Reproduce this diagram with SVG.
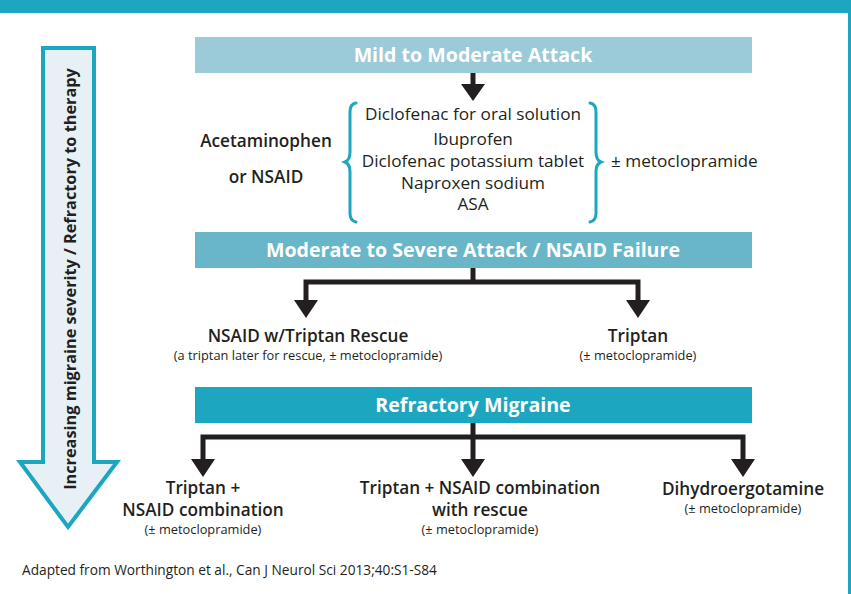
<svg xmlns="http://www.w3.org/2000/svg" width="851" height="594" viewBox="0 0 851 594">
<defs>
<style>
text{font-family:"Open Sans","Noto Sans","Liberation Sans",sans-serif;fill:#231F20}
.hd{font-size:19.6px;font-weight:700;fill:#fff;text-anchor:middle}
.lb{font-size:17.2px;font-weight:600;text-anchor:middle}
.it{font-size:17.2px;text-anchor:middle}
.sm{font-size:12.8px;text-anchor:middle}
.cn{fill:none;stroke:#231F20;stroke-width:5}
.ah{fill:#231F20}
.br{fill:none;stroke:#1DA6BF;stroke-width:3;stroke-linecap:round}
</style>
</defs>
<rect x="0" y="0" width="851" height="594" fill="#fff"/>
<rect x="0" y="0" width="851" height="13" fill="#1DA6BF"/>
<rect x="848" y="13" width="3" height="581" fill="#1DA6BF"/>

<g id="severity-arrow">
<path d="M43,48 H94 V462 H117 L68,527 L20,462 H43 Z" fill="#E6F0F5" stroke="#1DA6BF" stroke-width="4"/>
<text transform="translate(76,279) rotate(-90)" style="font-size:16.3px;font-weight:700;text-anchor:middle">Increasing migraine severity / Refractory to therapy</text>
</g>

<g id="mild">
<rect x="195" y="37" width="557" height="36" fill="#9BCAD8"/>
<text class="hd" x="473" y="62">Mild to Moderate Attack</text>
</g>

<g id="first-line">
<text class="lb" x="266" y="147">Acetaminophen</text>
<text class="lb" x="266" y="183">or NSAID</text>
<path class="br" d="M356,103 Q350,104 350,112 V152 Q350,160 345,162 Q350,164 350,172 V213 Q350,221 356,222"/>
<text class="it" x="473" y="120">Diclofenac for oral solution</text>
<text class="it" x="473" y="145">Ibuprofen</text>
<text class="it" x="473" y="167">Diclofenac potassium tablet</text>
<text class="it" x="473" y="189">Naproxen sodium</text>
<text class="it" x="473" y="210">ASA</text>
<path class="br" d="M590,103 Q596,104 596,112 V152 Q596,160 601,162 Q596,164 596,172 V213 Q596,221 590,222"/>
<text x="611" y="167" style="font-size:17.2px">± metoclopramide</text>
</g>

<g id="moderate">
<rect x="195" y="232" width="557" height="36" fill="#6AB6C9"/>
<text class="hd" x="473" y="257">Moderate to Severe Attack / NSAID Failure</text>
</g>

<g id="nsaid-triptan">
<text class="lb" x="308" y="342">NSAID w/Triptan Rescue</text>
<text class="sm" x="308" y="360">(a triptan later for rescue, ± metoclopramide)</text>
</g>

<g id="triptan">
<text class="lb" x="638" y="342">Triptan</text>
<text class="sm" x="638" y="360">(± metoclopramide)</text>
</g>

<g id="refractory">
<rect x="195" y="387" width="557" height="36" fill="#1DA6BF"/>
<text class="hd" x="473" y="412">Refractory Migraine</text>
</g>

<g id="triptan-nsaid">
<text class="lb" x="203" y="494">Triptan +</text>
<text class="lb" x="203" y="516">NSAID combination</text>
<text class="sm" x="203" y="534">(± metoclopramide)</text>
</g>

<g id="triptan-nsaid-rescue">
<text class="lb" x="480" y="494">Triptan + NSAID combination</text>
<text class="lb" x="480" y="516">with rescue</text>
<text class="sm" x="480" y="534">(± metoclopramide)</text>
</g>

<g id="dhe">
<text class="lb" x="743" y="495">Dihydroergotamine</text>
<text class="sm" x="743" y="513">(± metoclopramide)</text>
</g>

<g id="connectors">
<path class="cn" d="M473,73 V86"/>
<polygon class="ah" points="461,84 485,84 473,101"/>
<path class="cn" d="M473,268 V282 M306,302 V282 H638 V302"/>
<polygon class="ah" points="294,300 318,300 306,318"/>
<polygon class="ah" points="626,300 650,300 638,318"/>
<path class="cn" d="M473,423 V461 M203,461 V437 H743 V461"/>
<polygon class="ah" points="191,459 215,459 203,477"/>
<polygon class="ah" points="461,459 485,459 473,477"/>
<polygon class="ah" points="731,459 755,459 743,477"/>
</g>

<text x="22" y="575" style="font-size:13.7px">Adapted from Worthington et al., Can J Neurol Sci 2013;40:S1-S84</text>
</svg>
